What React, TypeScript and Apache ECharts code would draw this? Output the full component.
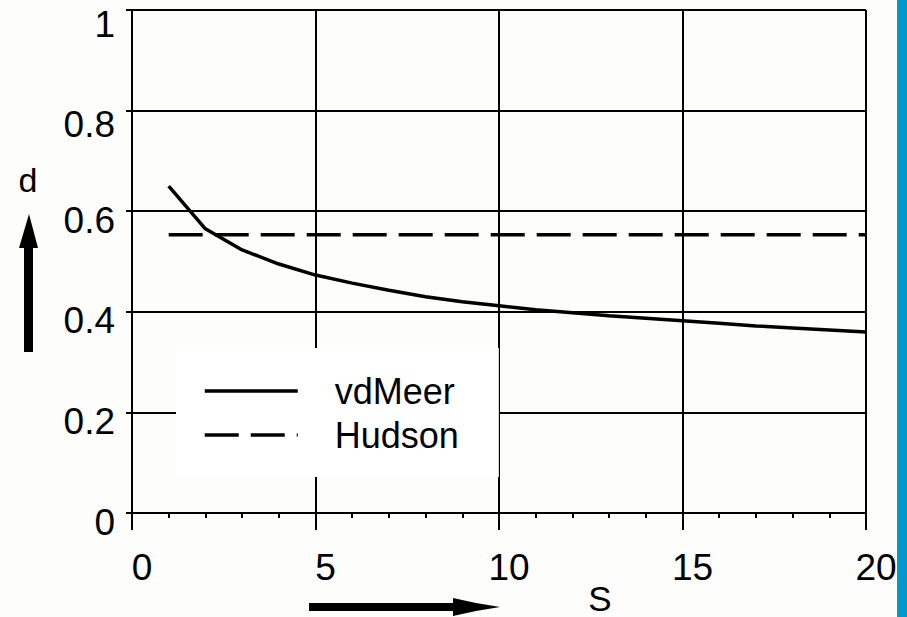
import React, { useEffect, useRef } from "react";
import * as echarts from "echarts";

const sValues = [1, 2, 3, 4, 5, 6, 7, 8, 9, 10, 11, 12, 13, 14, 15, 16, 17, 18, 19, 20];
const vdMeer = [0.65, 0.565, 0.523, 0.495, 0.473, 0.457, 0.443, 0.43, 0.42, 0.412, 0.404, 0.398, 0.392, 0.387, 0.382, 0.377, 0.372, 0.368, 0.364, 0.36];
const hudsonS = [1, 20];
const hudson = [0.553, 0.553];
const seriesNames = ["vdMeer", "Hudson"];

const FONT = "'Liberation Sans', Arial, Helvetica, sans-serif";

export default function App() {
  const ref = useRef<HTMLDivElement>(null);
  useEffect(() => {
    if (!ref.current) return;
    const chart = echarts.init(ref.current, undefined, { renderer: "svg" });
    chart.setOption({
      animation: false,
      backgroundColor: "#fdfdfb",
      textStyle: { fontFamily: FONT },
      grid: { left: 132, right: 41, top: 10, bottom: 104, containLabel: false },
      legend: {
        data: seriesNames,
        orient: "vertical",
        left: 176,
        top: 348,
        padding: [21, 40, 20, 27],
        backgroundColor: "#ffffff",
        itemWidth: 93,
        itemHeight: 14,
        itemGap: 0,
        itemStyle: { opacity: 0 },
        lineStyle: { width: 3.5 },
        textStyle: {
          fontFamily: FONT,
          fontSize: 36,
          color: "#000",
          lineHeight: 44,
          padding: [0, 0, 0, 32],
        },
      },
      xAxis: {
        type: "value",
        min: 0,
        max: 20,
        interval: 5,
        axisLine: { show: true, onZero: false, lineStyle: { color: "#000", width: 2 } },
        axisTick: { show: true, length: 17, lineStyle: { color: "#000", width: 2 } },
        minorTick: { show: true, splitNumber: 5, length: 5, lineStyle: { color: "#000", width: 2 } },
        splitLine: { show: true, lineStyle: { color: "#000", width: 2 } },
        axisLabel: {
          fontFamily: FONT,
          fontSize: 37,
          color: "#000",
          margin: 36,
          padding: [0, 0, 0, 20],
        },
      },
      yAxis: {
        type: "value",
        min: 0,
        max: 1,
        interval: 0.2,
        axisLine: { show: true, onZero: false, lineStyle: { color: "#000", width: 2 } },
        axisTick: { show: true, length: 6, lineStyle: { color: "#000", width: 2 } },
        splitLine: { show: true, lineStyle: { color: "#000", width: 2 } },
        axisLabel: {
          fontFamily: FONT,
          fontSize: 37,
          color: "#000",
          margin: 17,
          formatter: (v: number) => {
            const t = String(Math.round(v * 10) / 10);
            return v >= 0.79 ? "{a|" + t + "}" : "{b|" + t + "}";
          },
          rich: {
            a: { fontFamily: FONT, fontSize: 37, color: "#000", padding: [28, 0, 0, 0] },
            b: { fontFamily: FONT, fontSize: 37, color: "#000", padding: [18, 0, 0, 0] },
          },
        },
      },
      series: [
        {
          name: seriesNames[0],
          type: "line",
          data: sValues.map((s, i) => [s, vdMeer[i]]),
          showSymbol: false,
          symbol: "none",
          lineStyle: { color: "#000", width: 3.5 },
          itemStyle: { color: "#000" },
          z: 3,
        },
        {
          name: seriesNames[1],
          type: "line",
          data: hudsonS.map((s, i) => [s, hudson[i]]),
          showSymbol: false,
          symbol: "none",
          lineStyle: { color: "#000", width: 3.5, type: [34, 12] },
          itemStyle: { color: "#000" },
          z: 3,
        },
      ],
      graphic: [
        { type: "rect", shape: { x: 897, y: 0, width: 10, height: 617 }, style: { fill: "#0099cc" }, z: 10 },
        {
          type: "text",
          style: { text: "d", x: 28, y: 180, fontFamily: FONT, fontSize: 34, fill: "#000", align: "center", verticalAlign: "middle" },
        },
        { type: "rect", shape: { x: 24, y: 246, width: 9, height: 106 }, style: { fill: "#000" } },
        { type: "polygon", shape: { points: [[19, 248], [29, 214], [38, 248]] }, style: { fill: "#000" } },
        {
          type: "text",
          style: { text: "S", x: 600, y: 598, fontFamily: FONT, fontSize: 35, fill: "#000", align: "center", verticalAlign: "middle" },
        },
        { type: "rect", shape: { x: 309, y: 603, width: 146, height: 8 }, style: { fill: "#000" } },
        {
          type: "polygon",
          shape: { points: [[453, 598], [476, 603], [500, 607], [476, 611], [453, 616]] },
          style: { fill: "#000" },
        },
      ],
    });
    return () => chart.dispose();
  }, []);
  return <div ref={ref} style={{ width: 907, height: 617, position: "absolute", left: 0, top: 0 }} />;
}
